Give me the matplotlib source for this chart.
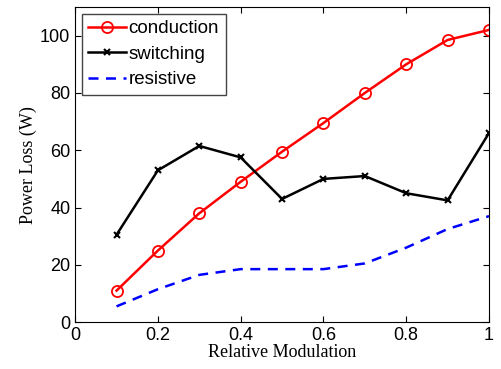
import numpy as np
import matplotlib
matplotlib.use("Agg")
import matplotlib.pyplot as plt

modulation = [0.1, 0.2, 0.3, 0.4, 0.5, 0.6, 0.7, 0.8, 0.9, 1.0]
conduction = [11, 25, 38, 49, 59.5, 69.5, 80, 90, 98.5, 102]
switching = [30.5, 53, 61.5, 57.5, 43, 50, 51, 45, 42.5, 66]
resistive = [5.5, 11.5, 16.5, 18.5, 18.5, 18.5, 20.5, 26, 32.5, 37]

plt.rcParams["font.family"] = "Liberation Sans"

fig = plt.figure(figsize=(5.01, 3.69), dpi=100)
ax = fig.add_axes([0.15, 0.127, 0.826, 0.854])

ax.plot(modulation, conduction, color="red", lw=1.8, marker="o",
        markersize=8, markerfacecolor="none", markeredgewidth=1.3, label="conduction")
ax.plot(modulation, switching, color="black", lw=1.8, marker="x",
        markersize=5, markeredgewidth=1.5, label="switching")
ax.plot(modulation, resistive, color="blue", lw=1.8, ls="--", dashes=(4, 3), label="resistive")

ax.set_xlim(0, 1)
ax.set_ylim(0, 110)
ax.set_xticks([0, 0.2, 0.4, 0.6, 0.8, 1])
ax.set_xticklabels(["0", "0.2", "0.4", "0.6", "0.8", "1"])
ax.set_yticks([0, 20, 40, 60, 80, 100])
ax.tick_params(direction="in", labelsize=13, top=True, right=True, length=4)

ax.set_xlabel("Relative Modulation", family="Liberation Serif", fontsize=13, labelpad=0)
ax.set_ylabel("Power Loss (W)", family="Liberation Serif", fontsize=13, labelpad=2)

leg = ax.legend(loc="upper left", fontsize=13.5, fancybox=False, edgecolor="#444444",
                framealpha=1, handlelength=2.0, handletextpad=0.15, borderpad=0.35,
                labelspacing=0.45, borderaxespad=0.35)
leg.get_frame().set_linewidth(1.0)

fig.savefig("out.png", dpi=100)
